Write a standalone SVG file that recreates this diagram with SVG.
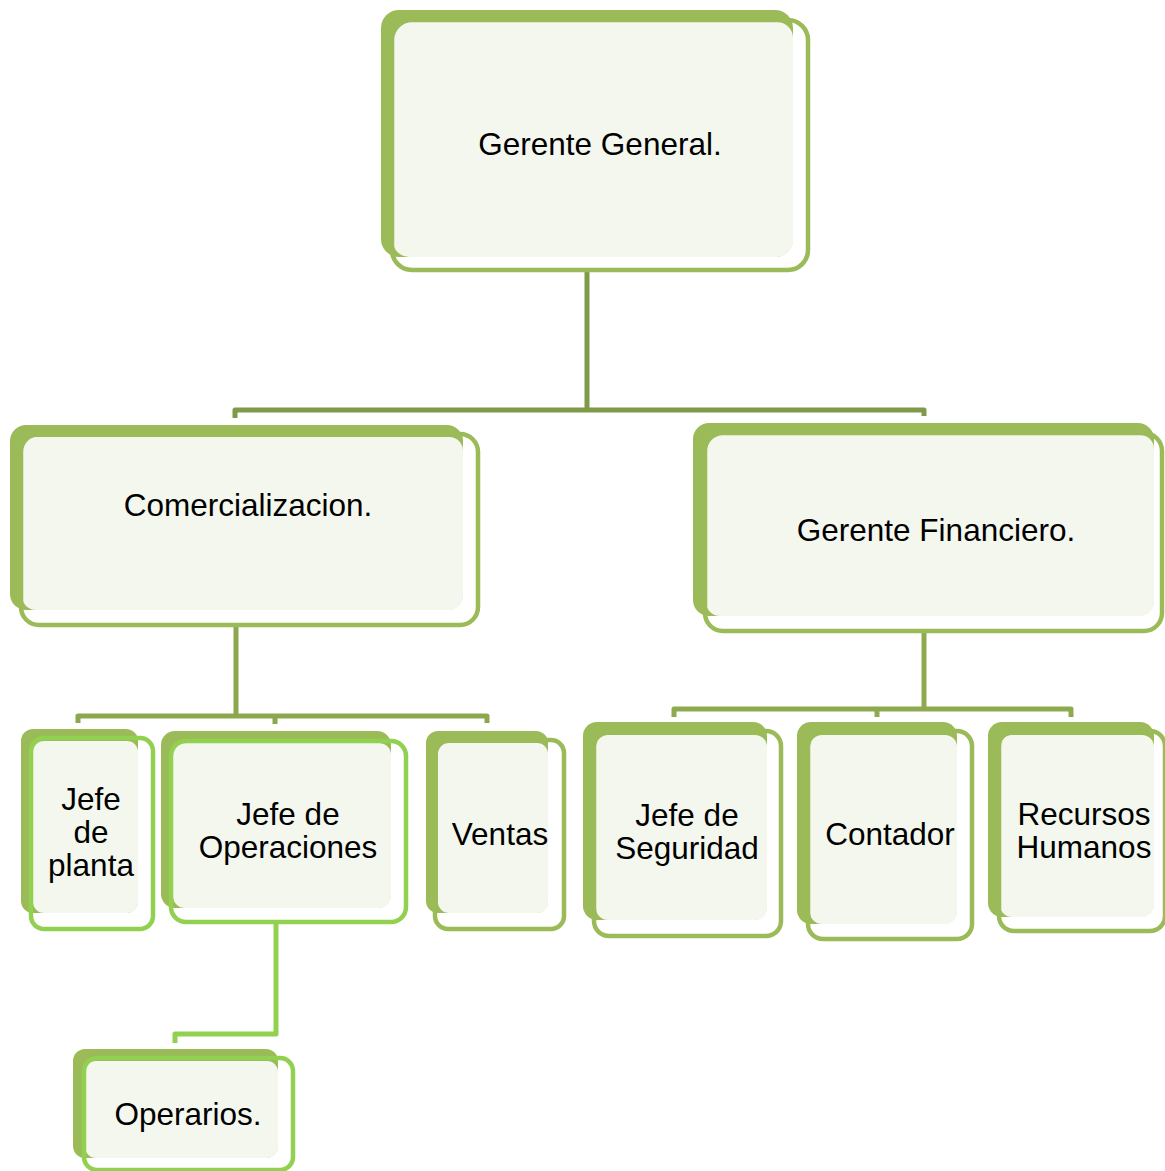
<svg xmlns="http://www.w3.org/2000/svg" width="1165" height="1171" viewBox="0 0 1165 1171">
<style>
.back{fill:#9BBB59}
.light{fill:#F4F7EE}
.ol{fill:none;stroke:#9BBB59;stroke-width:4.5}
.olb{fill:none;stroke:#92D050;stroke-width:4.5}
.t{font-family:"Liberation Sans",Arial,sans-serif;font-size:31.5px;fill:#000;text-anchor:middle}
.c{fill:none;stroke-width:5;stroke-linejoin:round}
</style>
<rect width="1165" height="1171" fill="#FFFFFF"/>
<g id="connectors">
<path class="c" stroke="#7F9A48" d="M587,270 V410 M235,418 V410 H924 V416"/>
<path class="c" stroke="#8CA84E" d="M236,625 V716 M78,723 V716 H487 V723 M275,716 V724"/>
<path class="c" stroke="#8EAA4F" d="M924,631 V709 M674,717 V709 H1071 V717 M877,709 V717"/>
<path class="c" stroke="#92D050" d="M276,922 V1034 H175 V1043"/>
</g>
<g id="gerente-general">
<rect class="back" x="381" y="10" width="412" height="247" rx="18"/>
<rect class="light" x="393" y="22" width="400" height="235" rx="16"/>
<rect class="ol" x="392" y="20" width="416" height="250" rx="20"/>
<text class="t" x="600" y="155">Gerente General.</text>
</g>
<g id="comercializacion">
<rect class="back" x="10" y="425" width="453" height="185" rx="16"/>
<rect class="light" x="22" y="437" width="441" height="173" rx="14"/>
<rect class="ol" x="21" y="434" width="457" height="191" rx="18"/>
<text class="t" x="248" y="516">Comercializacion.</text>
</g>
<g id="gerente-financiero">
<rect class="back" x="693" y="423" width="461" height="193" rx="16"/>
<rect class="light" x="706" y="435" width="448" height="181" rx="14"/>
<rect class="ol" x="705" y="433" width="457" height="198" rx="18"/>
<text class="t" x="936" y="541">Gerente Financiero.</text>
</g>
<g id="jefe-planta">
<rect class="back" x="21" y="729" width="117" height="184" rx="12"/>
<rect class="light" x="33" y="741" width="105" height="172" rx="11"/>
<rect class="olb" x="31" y="738" width="122" height="191" rx="13"/>
<text class="t" x="91" y="810">Jefe</text>
<text class="t" x="91" y="843">de</text>
<text class="t" x="91" y="876">planta</text>
</g>
<g id="jefe-operaciones">
<rect class="back" x="161" y="731" width="230" height="177" rx="14"/>
<rect class="light" x="173" y="743" width="218" height="165" rx="12"/>
<rect class="olb" x="171" y="741" width="235" height="181" rx="15"/>
<text class="t" x="288" y="825">Jefe de</text>
<text class="t" x="288" y="858">Operaciones</text>
</g>
<g id="ventas">
<rect class="back" x="426" y="731" width="122" height="182" rx="12"/>
<rect class="light" x="438" y="743" width="110" height="170" rx="11"/>
<rect class="ol" x="435" y="740" width="129" height="189" rx="13"/>
<text class="t" x="500" y="845">Ventas</text>
</g>
<g id="jefe-seguridad">
<rect class="back" x="583" y="722" width="184" height="198" rx="14"/>
<rect class="light" x="596" y="735" width="171" height="185" rx="12"/>
<rect class="ol" x="594" y="731" width="187" height="205" rx="15"/>
<text class="t" x="687" y="826">Jefe de</text>
<text class="t" x="687" y="859">Seguridad</text>
</g>
<g id="contador">
<rect class="back" x="797" y="722" width="160" height="202" rx="14"/>
<rect class="light" x="810" y="735" width="147" height="189" rx="12"/>
<rect class="ol" x="808" y="731" width="164" height="208" rx="15"/>
<text class="t" x="890" y="845">Contador</text>
</g>
<g id="recursos-humanos">
<rect class="back" x="988" y="722" width="166" height="195" rx="14"/>
<rect class="light" x="1000" y="735" width="154" height="182" rx="12"/>
<rect class="ol" x="999" y="731" width="166" height="200" rx="15"/>
<text class="t" x="1084" y="825">Recursos</text>
<text class="t" x="1084" y="858">Humanos</text>
</g>
<g id="operarios">
<rect class="back" x="73" y="1049" width="205" height="109" rx="12"/>
<rect class="light" x="85" y="1061" width="193" height="97" rx="11"/>
<rect class="olb" x="84" y="1058" width="209" height="112" rx="13"/>
<text class="t" x="188" y="1125">Operarios.</text>
</g>
</svg>
